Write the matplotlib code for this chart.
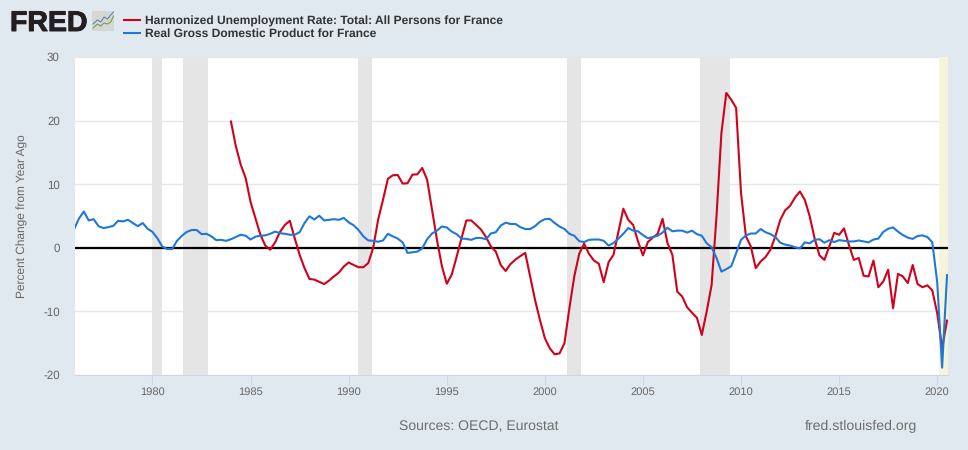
import numpy as np
import matplotlib
matplotlib.use('Agg')
import matplotlib.pyplot as plt
import matplotlib.patheffects as pe
from matplotlib.patches import Rectangle

plt.rcParams['font.family'] = ['Liberation Sans', 'DejaVu Sans']
plt.rcParams['axes.unicode_minus'] = False
plt.rcParams['text.hinting'] = 'no_hinting'

# Quarterly percent change
gdp = [2.9, 4.6, 5.7, 4.3,  4.5, 3.4, 3.1, 3.25,  3.45, 4.25, 4.15, 4.4,  3.9, 3.4, 3.9, 3.0,
       2.5, 1.5, 0.2, -0.2,  -0.2, 1.1, 1.9, 2.5,  2.8, 2.8, 2.15, 2.2,  1.8, 1.2, 1.25, 1.1,
       1.35, 1.7, 2.05, 1.9,  1.3, 1.75, 1.9, 1.95,  2.2, 2.55, 2.3, 2.2,  2.05, 2.05, 2.45, 3.9,
       4.95, 4.45, 5.05, 4.3,  4.4, 4.5, 4.4, 4.7,  4.0, 3.55, 2.8, 1.8,  1.15, 1.1, 0.95, 1.15,
       2.2, 1.8, 1.45, 0.85,  -0.8, -0.7, -0.6, -0.1,  1.35, 2.25, 2.7, 3.35,  3.2, 2.55, 2.15, 1.45,
       1.4, 1.25, 1.55, 1.55,  1.35, 2.25, 2.45, 3.5,  3.95, 3.75, 3.75, 3.25,  2.95, 2.95, 3.4, 4.1,
       4.5, 4.55, 3.9, 3.35,  2.95, 2.2, 1.9, 1.05,  0.9, 1.25, 1.3, 1.3,  1.1, 0.35, 0.75, 1.45,
       2.2, 3.1, 2.7, 2.6,  2.0, 1.5, 1.7, 1.9,  2.4, 3.15, 2.6, 2.7,  2.7, 2.4, 2.7, 2.15,
       1.9, 0.7, 0.1, -1.6,  -3.75, -3.35, -2.9, -0.85,  1.25, 1.95, 2.25, 2.25,  2.95, 2.45, 2.15, 1.7,
       0.8, 0.5, 0.35, 0.1,  -0.1, 0.85, 0.7, 1.25,  1.35, 0.8, 1.2, 0.9,  1.2, 1.1, 1.0, 1.0,
       1.15, 1.0, 0.85, 1.3,  1.45, 2.5, 3.0, 3.2,  2.55, 2.0, 1.6, 1.4,  1.85, 1.95, 1.7, 0.85,
       -5.4, -18.85, -4.3]

unemployment = [19.85, 15.95, 13.05, 10.95,  7.2, 4.65, 2.05, 0.35,  -0.3, 0.85, 2.5, 3.6,
                4.25, 1.5, -1.1, -3.2,  -4.9, -5.0, -5.35, -5.7,  -5.15, -4.5, -3.9, -2.95,
                -2.3, -2.7, -3.05, -3.05,  -2.4, 0.0, 4.4, 7.55,  10.85, 11.4, 11.45, 10.1,
                10.15, 11.5, 11.55, 12.55,  10.7, 6.0, 1.25, -2.85,  -5.65, -4.25, -1.45, 1.5,
                4.3, 4.3, 3.6, 2.85,  1.7, 0.2, -0.6, -2.7,  -3.65, -2.55, -1.85, -1.3,
                -0.8, -4.5, -8.2, -11.35,  -14.2, -15.8, -16.75, -16.6,  -15.0, -9.5, -4.5, -0.95,
                0.65, -0.95, -2.0, -2.5,  -5.4, -2.25, -1.1, 2.55,  6.15, 4.4, 3.6, 1.0,
                -1.2, 0.9, 1.6, 2.2,  4.55, 0.75, -1.1, -6.9,  -7.65, -9.35, -10.2, -11.0,
                -13.7, -10.0, -5.85, 4.95,  18.05, 24.35, 23.3, 22.0,  8.6, 1.8, 0.2, -3.2,
                -2.15, -1.45, -0.3, 1.8,  4.4, 5.9, 6.6, 7.9,  8.85, 7.55, 4.95, 1.5,
                -1.2, -1.9, 0.2, 2.35,  2.05, 3.05, 0.45, -1.9,  -1.6, -4.4, -4.5, -2.0,
                -6.2, -5.3, -3.45, -9.5,  -4.1, -4.5, -5.55, -2.7,  -5.7, -6.2, -5.9, -6.7,
                -10.3, -15.8, -11.45]

gdp_years = 1976 + np.arange(len(gdp)) / 4
unemployment_years = 1984 + np.arange(len(unemployment)) / 4

recessions = [(1980.0, 1980.5), (1981.55, 1982.85), (1990.5, 1991.2),
              (2001.15, 2001.83), (2007.93, 2009.44)]
covid_start = 2020.1

year_ticks = list(range(1980, 2021, 5))
value_ticks = [-20, -10, 0, 10, 20, 30]

bg = '#e1e9f0'
red = '#d0021b'
blue = '#1f78d8'
grey_text = '#666666'

fig = plt.figure(figsize=(9.68, 4.5), dpi=100, facecolor=bg)
ax = fig.add_axes([75 / 968, 75 / 450, 873 / 968, 318 / 450])

for start, end in recessions:
    ax.axvspan(start, end, color='#e5e5e5', lw=0, zorder=2)
ax.axvspan(covid_start, 2020.6, color='#f5f5dc', lw=0, zorder=2)

ax.axhline(0, color='black', lw=1.6, zorder=3)
l1, = ax.plot(unemployment_years, unemployment, color=red, lw=1.5, zorder=4,
              label='Harmonized Unemployment Rate: Total: All Persons for France')
l2, = ax.plot(gdp_years, gdp, color=blue, lw=1.5, zorder=5,
              label='Real Gross Domestic Product for France')

ax.set_xlim(1976.05, 2020.55)
ax.set_ylim(-20, 30)
ax.set_xticks(year_ticks)
ax.set_yticks(value_ticks)
ax.grid(axis='y', color='#e6e6e6', lw=1, zorder=1)
ax.set_axisbelow(True)
for side in ['top', 'right', 'left']:
    ax.spines[side].set_visible(False)
ax.spines['bottom'].set_color('#ccd6eb')
ax.tick_params(axis='x', length=7, width=0.8, color='#ccd6eb', labelsize=8, labelcolor=grey_text, pad=1.5)
ax.tick_params(axis='y', length=0, labelsize=8.3, labelcolor=grey_text, pad=11)
ax.set_ylabel('Percent Change from Year Ago', fontsize=8.6, color=grey_text)
ax.yaxis.set_label_coords((28 - 75) / 873, 0.5)

leg = fig.legend(handles=[l1, l2], loc='upper left', bbox_to_anchor=(121.5 / 968, 1 - 13 / 450),
                 frameon=False, prop={'weight': 'bold', 'size': 8.65},
                 labelcolor='#333333', handlelength=1.3, handletextpad=0.42,
                 labelspacing=0.17, borderpad=0.2, borderaxespad=0)

# FRED logo: wordmark plus small chart icon
logo = fig.text(10 / 968, 1 - 31 / 450, 'FRED', fontsize=20.5, fontweight='bold', color='#231f20',
                va='baseline', ha='left')
logo.set_path_effects([pe.withStroke(linewidth=0.7, foreground='#231f20')])
icon = fig.add_axes([92 / 968, 1 - 31 / 450, 22 / 968, 20 / 450])
icon.set_xlim(0, 10)
icon.set_ylim(0, 10)
icon.axis('off')
icon.add_patch(Rectangle((0, 0), 10, 10, color='#d6d6d2', lw=0))
icon.plot([0.5, 2.5, 4, 5.5, 7, 8.5, 9.8], [3.5, 5.5, 4.5, 7, 6, 8, 9.5], color='#4a7fb5', lw=0.7)
icon.plot([0.5, 2.5, 4, 5.5, 7, 8.5, 9.8], [1.5, 3.5, 2.5, 4, 3.5, 4.5, 7.5], color='#6f9a3e', lw=0.7)

fig.text(399 / 968, 1 - 430 / 450, 'Sources: OECD, Eurostat', fontsize=10.1, color='#6e6e6e', va='baseline')
fig.text(917 / 968, 1 - 430 / 450, 'fred.stlouisfed.org', fontsize=10.2, color='#6e6e6e', va='baseline', ha='right')

fig.savefig('out.png', dpi=100, facecolor=bg)
